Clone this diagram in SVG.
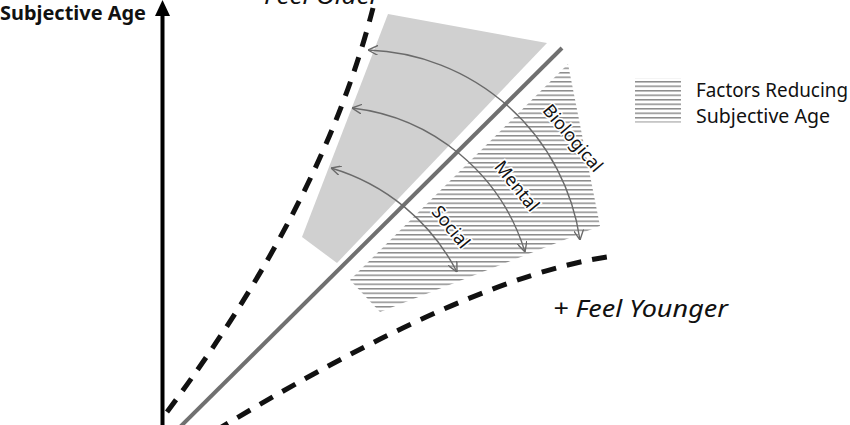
<svg xmlns="http://www.w3.org/2000/svg" width="850" height="425" viewBox="0 0 850 425">
<style>
.lbl{font-family:"Noto Sans","Open Sans","Liberation Sans",sans-serif;fill:#111}
.dash{fill:none;stroke:#111;stroke-width:5;stroke-dasharray:15 11}
.arc{fill:none;stroke:#6a6a6a;stroke-width:1.4;marker-start:url(#chev);marker-end:url(#chev)}
.arclbl{font-family:"Noto Sans","Open Sans","Liberation Sans",sans-serif;font-size:18px;fill:#111;stroke:#fff;stroke-width:3;paint-order:stroke;text-anchor:middle}
</style>
<defs>
<pattern id="hatch" patternUnits="userSpaceOnUse" width="10" height="4.5">
<rect x="0" y="0" width="10" height="1.5" fill="#8c8c8c"/>
</pattern>
<marker id="chev" viewBox="0 0 10 10" refX="10" refY="5" markerWidth="10" markerHeight="10" markerUnits="userSpaceOnUse" orient="auto-start-reverse">
<path d="M0,0 L10,5 L0,10" fill="none" stroke="#6a6a6a" stroke-width="1.4"/>
</marker>
</defs>
<rect width="850" height="425" fill="#fff"/>
<g id="older-area">
<polygon points="388,14 547,43 337,263 302,237" fill="#d0d0d0"/>
</g>
<g id="younger-area">
<polygon points="568,64 600,226 380,312 350,280" fill="url(#hatch)"/>
</g>
<g id="connectors">
<line id="diagonal" x1="180" y1="427" x2="562" y2="48" stroke="#707070" stroke-width="4"/>
<path id="older-curve" class="dash" d="M167,412 Q323,203 373,8"/>
<path id="younger-curve" class="dash" d="M215,431 Q468,278 607,257"/>
<path id="bio-arc" class="arc" d="M368,50 A222,222 0 0 1 580,240"/>
<path id="mental-arc" class="arc" d="M352,108 A206,206 0 0 1 525,252"/>
<path id="social-arc" class="arc" d="M331,168 A208,208 0 0 1 457,272"/>
</g>
<g id="axis">
<line x1="162.5" y1="14" x2="162.5" y2="425" stroke="#000" stroke-width="4"/>
<polygon points="162.5,0 155,16 170,16" fill="#000"/>
<text class="lbl" x="0" y="20" font-size="19" font-weight="bold" textLength="146" lengthAdjust="spacingAndGlyphs">Subjective Age</text>
</g>
<g id="labels">
<text class="lbl" x="264" y="4" font-size="24" font-style="italic" textLength="116" lengthAdjust="spacingAndGlyphs">Feel Older</text>
<text class="lbl" x="553" y="317" font-size="24" font-style="italic" textLength="175" lengthAdjust="spacingAndGlyphs">+ Feel Younger</text>
<text class="arclbl" transform="translate(573,138) rotate(50)" dy="0.35em">Biological</text>
<text class="arclbl" transform="translate(517,186) rotate(51)" dy="0.35em">Mental</text>
<text class="arclbl" transform="translate(451,227) rotate(51)" dy="0.35em">Social</text>
</g>
<g id="legend">
<rect x="635" y="78.5" width="46" height="44" fill="url(#hatch)"/>
<text class="lbl" x="696" y="97" font-size="19" textLength="152" lengthAdjust="spacingAndGlyphs">Factors Reducing</text>
<text class="lbl" x="696" y="123" font-size="19" textLength="134" lengthAdjust="spacingAndGlyphs">Subjective Age</text>
</g>
</svg>
